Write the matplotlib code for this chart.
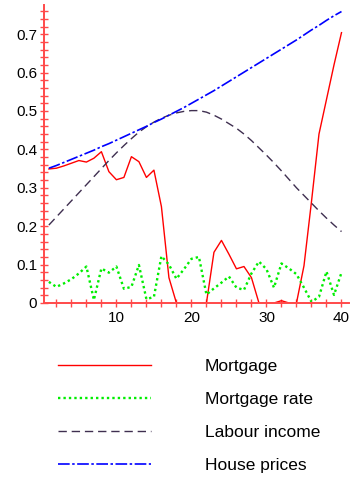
import numpy as np
import matplotlib
matplotlib.use("Agg")
import matplotlib.pyplot as plt
from matplotlib.ticker import MultipleLocator, FuncFormatter

plt.rcParams['font.family'] = ['Liberation Sans', 'DejaVu Sans']

# periods 1..40
periods = list(range(1, 41))

mortgage = [0.349, 0.351, 0.357, 0.364, 0.371, 0.367, 0.377, 0.394, 0.342, 0.321,
            0.327, 0.381, 0.368, 0.327, 0.346, 0.251, 0.066, 0.0, 0.0, 0.0,
            0.0, 0.0, 0.132, 0.163, 0.127, 0.089, 0.095, 0.066, 0.0, 0.0,
            0.0, 0.006, 0.0, 0.0, 0.097, 0.264, 0.44, 0.53, 0.62, 0.704]

mortgage_rate = [0.055, 0.042, 0.051, 0.062, 0.077, 0.095, 0.008, 0.090, 0.079, 0.095,
                 0.037, 0.042, 0.099, 0.010, 0.016, 0.122, 0.100, 0.063, 0.088, 0.115,
                 0.120, 0.022, 0.038, 0.053, 0.069, 0.040, 0.034, 0.077, 0.108, 0.088,
                 0.040, 0.103, 0.090, 0.075, 0.040, 0.003, 0.016, 0.082, 0.021, 0.079]

labour_income = [0.203, 0.224, 0.245, 0.266, 0.287, 0.308, 0.329, 0.350, 0.371, 0.391,
                 0.410, 0.428, 0.445, 0.459, 0.471, 0.481, 0.489, 0.495, 0.499, 0.501,
                 0.501, 0.497, 0.489, 0.479, 0.467, 0.455, 0.440, 0.423, 0.404, 0.385,
                 0.365, 0.344, 0.322, 0.300, 0.280, 0.260, 0.240, 0.221, 0.203, 0.186]

house_prices = [0.351, 0.358, 0.366, 0.374, 0.382, 0.390, 0.398, 0.407, 0.415, 0.424,
                0.433, 0.442, 0.451, 0.460, 0.470, 0.479, 0.489, 0.499, 0.509, 0.520,
                0.531, 0.542, 0.553, 0.565, 0.577, 0.589, 0.601, 0.613, 0.625, 0.637,
                0.649, 0.661, 0.673, 0.685, 0.698, 0.711, 0.723, 0.736, 0.748, 0.759]

labels = ["Mortgage", "Mortgage rate", "Labour income", "House prices"]

axis_red = '#ff4a4a'

fig = plt.figure(figsize=(3.5, 4.8), dpi=100)
ax = fig.add_axes([44 / 350, 177 / 480, 305 / 350, 298 / 480])

l1, = ax.plot(periods, mortgage, color='#ff0000', lw=1.0)
l2, = ax.plot(periods, mortgage_rate, color='#00ee00', lw=1.7, linestyle=(0, (1, 1.3)))
l3, = ax.plot(periods, labour_income, color='#3f2f50', lw=1.0, dashes=(6, 3.5))
l4, = ax.plot(periods, house_prices, color='#0000ff', lw=1.2, dashes=(7, 1.5, 1.5, 1.5))

ax.set_xlim(0.35, 41)
ax.set_ylim(0, 0.776)

for s in ['top', 'right']:
    ax.spines[s].set_visible(False)
for s in ['left', 'bottom']:
    ax.spines[s].set_color(axis_red)
    ax.spines[s].set_linewidth(1.4)

ax.xaxis.set_major_locator(MultipleLocator(10))
ax.xaxis.set_minor_locator(MultipleLocator(2))
ax.yaxis.set_major_locator(MultipleLocator(0.1))
ax.yaxis.set_minor_locator(MultipleLocator(0.02))
ax.yaxis.set_major_formatter(FuncFormatter(lambda v, p: '%g' % round(v, 2)))
ax.tick_params(which='both', direction='inout', length=6, width=1.0,
               color=axis_red, labelsize=11, labelcolor='black')
ax.tick_params(axis='y', pad=2)
ax.tick_params(axis='x', pad=3)

fig.legend([l1, l2, l3, l4], labels, loc='upper left',
           bbox_to_anchor=(58 / 350, 1 - 359 / 480), frameon=False,
           fontsize=12.5, handlelength=5.35, handletextpad=3.1,
           labelspacing=1.02, borderpad=0, borderaxespad=0)

fig.savefig('out.png', dpi=100)
